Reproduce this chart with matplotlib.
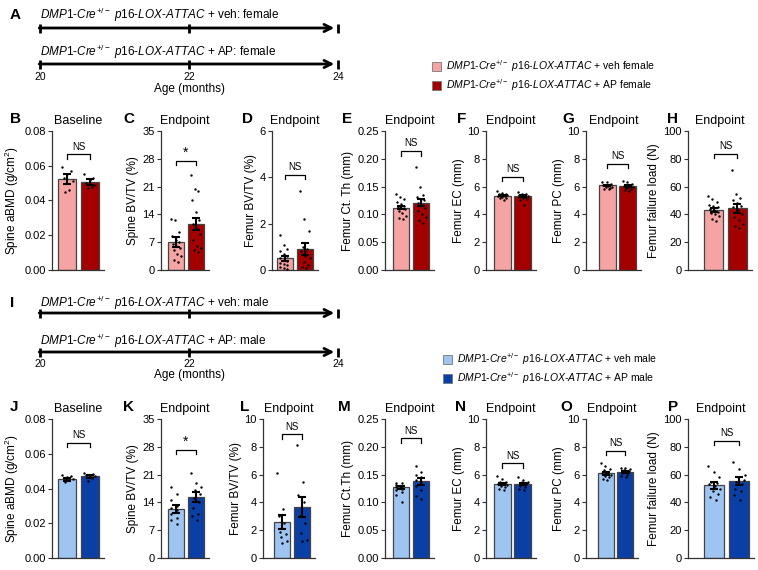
import numpy as np
import matplotlib
matplotlib.use('Agg')
from matplotlib import pyplot as plt
from matplotlib.patches import Patch
from matplotlib.ticker import MultipleLocator, FormatStrFormatter

plt.rcParams['font.family'] = ['Liberation Sans', 'DejaVu Sans']
plt.rcParams['mathtext.fontset'] = 'custom'
plt.rcParams['mathtext.rm'] = 'Liberation Sans'
plt.rcParams['mathtext.it'] = 'Liberation Sans:italic'

W, H = 758, 570

# ---- data ----
titles = ['Baseline', 'Endpoint', 'Endpoint', 'Endpoint', 'Endpoint', 'Endpoint', 'Endpoint']
top_letters = ['B', 'C', 'D', 'E', 'F', 'G', 'H']
bot_letters = ['J', 'K', 'L', 'M', 'N', 'O', 'P']
top_ylabels = ['Spine aBMD (g/cm$^2$)', 'Spine BV/TV (%)', 'Femur BV/TV (%)', 'Femur Ct. Th (mm)',
               'Femur EC (mm)', 'Femur PC (mm)', 'Femur failure load (N)']
bot_ylabels = ['Spine aBMD (g/cm$^2$)', 'Spine BV/TV (%)', 'Femur BV/TV (%)', 'Femur Ct.Th (mm)',
               'Femur EC (mm)', 'Femur PC (mm)', 'Femur failure load (N)']
top_ymax = [0.08, 35, 6, 0.25, 10, 10, 100]
bot_ymax = [0.08, 35, 10, 0.25, 10, 10, 100]
top_ystep = [0.02, 7, 2, 0.05, 2, 2, 20]
bot_ystep = [0.02, 7, 2, 0.05, 2, 2, 20]

female_veh_mean = [0.0522, 7.1, 0.50, 0.112, 5.35, 6.10, 43.1]
female_veh_sem = [0.0028, 1.2, 0.10, 0.003, 0.05, 0.05, 1.2]
female_ap_mean = [0.0507, 11.5, 0.89, 0.121, 5.30, 6.03, 44.3]
female_ap_sem = [0.0018, 1.5, 0.26, 0.006, 0.06, 0.05, 3.0]
male_veh_mean = [0.0454, 12.4, 2.60, 0.127, 5.30, 6.10, 52.5]
male_veh_sem = [0.0008, 1.0, 0.50, 0.003, 0.08, 0.10, 2.5]
male_ap_mean = [0.0471, 15.4, 3.68, 0.138, 5.32, 6.20, 55.5]
male_ap_sem = [0.0008, 1.3, 0.70, 0.006, 0.07, 0.08, 3.0]

b_veh = [0.059, 0.057, 0.055, 0.053, 0.051, 0.046, 0.045]
b_ap = [0.055, 0.053, 0.052, 0.050, 0.049, 0.048, 0.047]
c_veh = [12.8, 12.5, 9.5, 8.5, 7.5, 7.0, 6.5, 6.0, 5.5, 5.0, 4.0, 3.5, 2.5, 2.0]
c_ap = [24.0, 20.5, 20.0, 17.5, 14.5, 12.5, 11.5, 10.5, 9.0, 7.5, 6.0, 5.5, 5.0, 4.5]
d_veh = [1.5, 1.1, 0.9, 0.8, 0.7, 0.6, 0.5, 0.45, 0.4, 0.3, 0.25, 0.2, 0.15, 0.1, 0.05]
d_ap = [3.4, 2.2, 1.7, 1.0, 0.9, 0.8, 0.6, 0.5, 0.35, 0.2, 0.15, 0.1]
e_veh = [0.137, 0.131, 0.127, 0.122, 0.118, 0.116, 0.113, 0.111, 0.109, 0.106, 0.102, 0.098, 0.094, 0.091]
e_ap = [0.186, 0.150, 0.135, 0.131, 0.128, 0.125, 0.121, 0.117, 0.112, 0.106, 0.100, 0.095, 0.090, 0.085]
f_veh = [5.65, 5.55, 5.5, 5.45, 5.4, 5.38, 5.35, 5.32, 5.3, 5.25, 5.2, 5.15, 5.05]
f_ap = [5.6, 5.5, 5.45, 5.4, 5.35, 5.32, 5.3, 5.27, 5.22, 5.18, 5.1, 5.0, 4.7]
g_veh = [6.35, 6.3, 6.2, 6.15, 6.1, 6.08, 6.05, 6.0, 5.95, 5.9, 5.85, 5.8]
g_ap = [6.4, 6.3, 6.2, 6.15, 6.1, 6.05, 6.0, 5.95, 5.9, 5.85, 5.75, 5.7]
h_veh = [53, 51, 49, 47, 46, 45, 44, 43, 42, 41, 40, 39, 37, 35]
h_ap = [72, 55, 52, 50, 48, 46, 45, 43, 40, 38, 36, 33, 32, 30]

j_veh = [0.0478, 0.047, 0.0465, 0.046, 0.0455, 0.0448, 0.0438]
j_ap = [0.049, 0.0485, 0.048, 0.0475, 0.047, 0.046, 0.0445]
k_veh = [18.0, 16.0, 14.5, 13.0, 12.5, 12.0, 11.0, 10.0, 9.5, 8.5]
k_ap = [21.5, 19.0, 18.0, 17.0, 16.0, 15.0, 14.0, 12.5, 11.0, 10.5, 9.5]
l_veh = [6.1, 3.5, 3.0, 2.5, 1.9, 1.7, 1.5, 1.25, 1.1]
l_ap = [8.1, 5.5, 4.5, 4.0, 3.0, 2.5, 1.8, 1.3, 1.2]
m_veh = [0.135, 0.134, 0.131, 0.129, 0.127, 0.125, 0.122, 0.118, 0.114, 0.100]
m_ap = [0.166, 0.155, 0.150, 0.146, 0.141, 0.136, 0.130, 0.122, 0.112, 0.106]
n_veh = [5.9, 5.7, 5.5, 5.45, 5.4, 5.35, 5.3, 5.25, 5.2, 5.1, 5.0, 4.9]
n_ap = [5.8, 5.6, 5.5, 5.45, 5.4, 5.35, 5.3, 5.2, 5.1, 5.0, 4.9]
o_veh = [6.8, 6.6, 6.4, 6.3, 6.2, 6.1, 6.05, 6.0, 5.9, 5.8, 5.7, 5.6]
o_ap = [6.5, 6.45, 6.4, 6.3, 6.25, 6.2, 6.15, 6.1, 6.0, 5.9, 5.8]
p_veh = [66, 62, 58, 55, 54, 53, 52, 50, 48, 46, 44, 42]
p_ap = [69, 64, 60, 58, 56, 55, 53, 50, 48, 45, 42]

top_points = [(b_veh, b_ap), (c_veh, c_ap), (d_veh, d_ap), (e_veh, e_ap), (f_veh, f_ap), (g_veh, g_ap), (h_veh, h_ap)]
bot_points = [(j_veh, j_ap), (k_veh, k_ap), (l_veh, l_ap), (m_veh, m_ap), (n_veh, n_ap), (o_veh, o_ap), (p_veh, p_ap)]

top_sig = ['NS', '*', 'NS', 'NS', 'NS', 'NS', 'NS']
bot_sig = ['NS', '*', 'NS', 'NS', 'NS', 'NS', 'NS']
top_bracket = [0.0666, 27.5, 4.12, 0.214, 6.7, 7.65, 83.7]
bot_bracket = [0.0663, 27.3, 8.9, 0.215, 6.8, 7.7, 84.4]

female_colors = ['#F5A3A3', '#A50000']
male_colors = ['#9EC5F2', '#0A3FA6']

# ---- layout (pixels) ----
top_spine = [52, 161, 272, 385, 486, 586, 688]
top_barL = [58, 168, 277, 393, 494, 599, 704]
top_barR = [99, 204, 313, 429, 531, 636, 747]
bot_spine = [52, 161, 263, 385, 486, 586, 688]
bot_barL = [58, 168, 274, 393, 494, 598, 704]
bot_barR = [99, 204, 310, 429, 531, 633, 749]
top_letter_x = [10, 123, 242, 342, 457, 562, 667]
bot_letter_x = [10, 123, 240, 338, 455, 560, 668]

fig = plt.figure(figsize=(W / 100, H / 100), dpi=100)


def rect(x0, y0, w, h):
    return [x0 / W, 1 - (y0 + h) / H, w / W, h / H]


def bar_panel(spine, barL, barR, ytop, ymax, ystep, ylabel, title, letter, letter_x,
              mean, sem, pts, colors, bracket, sig):
    bw = 0.82
    u = (barR - barL) / (1 + bw)
    extra = 5
    ax = fig.add_axes(rect(spine, ytop, barR + extra - spine, 139))
    ax.set_xlim(-bw / 2 - (barL - spine) / u, 1 + bw / 2 + extra / u)
    ax.set_ylim(0, ymax)
    ax.bar([0, 1], mean, width=bw, color=colors, edgecolor='#444444', linewidth=0.9, zorder=1)
    for i, vals in enumerate(pts):
        n = len(vals)
        offs = np.linspace(-0.24, 0.24, n)[(np.arange(n) * 5) % n]
        ax.scatter(i + offs, vals, s=3, color='black', linewidths=0, zorder=3)
    ax.errorbar([0, 1], mean, yerr=sem, fmt='none', ecolor='black', elinewidth=1.5,
                capsize=3, capthick=1.5, zorder=4)
    dy = ymax * 4.5 / 139
    ax.plot([0, 0, 1, 1], [bracket - dy, bracket, bracket, bracket - dy], color='black', lw=0.9,
            clip_on=False)
    if sig == '*':
        ax.text(0.5, bracket + ymax * 0.005, sig, ha='center', va='bottom', fontsize=10)
    else:
        ax.text(0.5, bracket + ymax * 0.02, sig, ha='center', va='bottom', fontsize=7)
    for s in ['top', 'right']:
        ax.spines[s].set_visible(False)
    for s in ['left', 'bottom']:
        ax.spines[s].set_color('#333333')
        ax.spines[s].set_linewidth(0.9)
    ax.set_xticks([])
    ax.yaxis.set_major_locator(MultipleLocator(ystep))
    ax.yaxis.set_major_formatter(FormatStrFormatter('%.2f' if ymax < 1 else '%d'))
    ax.tick_params(axis='y', length=3, width=0.8, colors='#333333', labelsize=8, pad=1.5,
                   labelcolor='black')
    ax.set_ylabel(ylabel, fontsize=8.5, labelpad=2)
    ax.set_title(title, fontsize=9, pad=5)
    fig.text(letter_x / W, 1 - (ytop - 12) / H, letter, fontsize=11, fontweight='bold',
             ha='left', va='center')
    return ax


for i in range(7):
    bar_panel(top_spine[i], top_barL[i], top_barR[i], 131, top_ymax[i], top_ystep[i],
              top_ylabels[i], titles[i], top_letters[i], top_letter_x[i],
              [female_veh_mean[i], female_ap_mean[i]], [female_veh_sem[i], female_ap_sem[i]],
              top_points[i], female_colors, top_bracket[i], top_sig[i])
    bar_panel(bot_spine[i], bot_barL[i], bot_barR[i], 419, bot_ymax[i], bot_ystep[i],
              bot_ylabels[i], titles[i], bot_letters[i], bot_letter_x[i],
              [male_veh_mean[i], male_ap_mean[i]], [male_veh_sem[i], male_ap_sem[i]],
              bot_points[i], male_colors, bot_bracket[i], bot_sig[i])

geno = r"$\mathit{DMP1}$-$\mathit{Cre}^{+/-}$ $\mathit{p16}$-$\mathit{LOX}$-$\mathit{ATTAC}$"
months = [20, 22, 24]


def timeline(y0, letter, sex, rows):
    # rows: y of text1, line1, text2, line2, tick labels, age label (pixels from y0)
    ax = fig.add_axes(rect(40, y0, 298, 100))
    ax.set_xlim(20, 24)
    ax.set_ylim(100, 0)
    ax.axis('off')
    t1, l1, t2, l2, tl, al = rows
    for ty, ly, grp in [(t1, l1, 'veh'), (t2, l2, 'AP')]:
        ax.text(20, ty, geno + ' + ' + grp + ': ' + sex, fontsize=8.5, ha='left', va='center')
        ax.annotate('', xy=(23.95, ly), xytext=(19.99, ly),
                    arrowprops=dict(arrowstyle='->', lw=2, color='black', mutation_scale=13,
                                    shrinkA=0, shrinkB=0))
        for m in months:
            ax.plot([m, m], [ly - 4.5, ly + 4.5], color='black', lw=2, clip_on=False,
                    solid_capstyle='butt')
    for m in months:
        ax.text(m, tl, str(m), fontsize=7.5, ha='center', va='center')
    ax.text(22, al, 'Age (months)', fontsize=8.5, ha='center', va='center')
    fig.text(10 / W, 1 - (y0 + t1) / H, letter, fontsize=11, fontweight='bold',
             ha='left', va='center')


timeline(0, 'A', 'female', [15, 28, 52, 64, 77, 89])
timeline(280, 'I', 'male', [23, 33, 61, 72, 84, 95])

fig.legend(handles=[Patch(fc=c, ec='#777777', lw=0.6) for c in female_colors],
           labels=[geno + ' + veh female', geno + ' + AP female'],
           loc='upper left', bbox_to_anchor=(432 / W, 1 - 58 / H), frameon=False, fontsize=7.5,
           handlelength=0.9, handleheight=0.9, handletextpad=0.45, labelspacing=0.35,
           borderpad=0, borderaxespad=0)
fig.legend(handles=[Patch(fc=c, ec='#777777', lw=0.6) for c in male_colors],
           labels=[geno + ' + veh male', geno + ' + AP male'],
           loc='upper left', bbox_to_anchor=(443 / W, 1 - 351 / H), frameon=False, fontsize=7.5,
           handlelength=0.9, handleheight=0.9, handletextpad=0.45, labelspacing=0.35,
           borderpad=0, borderaxespad=0)

fig.savefig('out.png', dpi=100)
